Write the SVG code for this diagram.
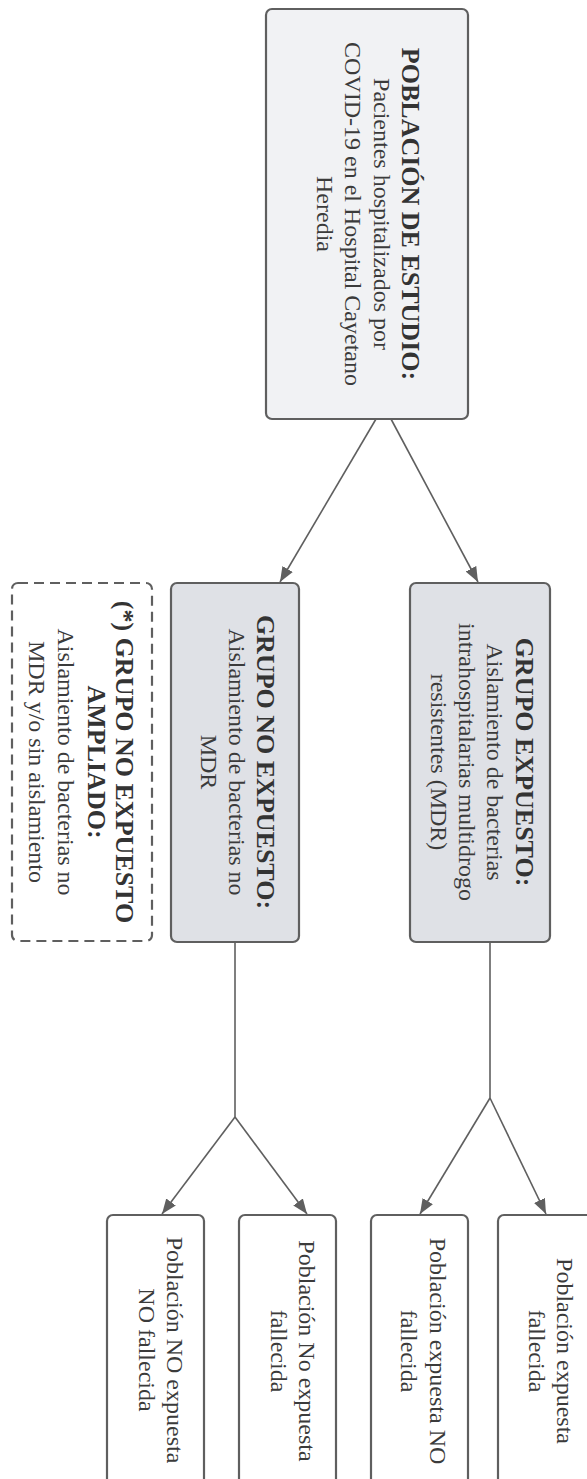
<svg xmlns="http://www.w3.org/2000/svg" width="587" height="1479" viewBox="0 0 587 1479">
<defs>
<style>
.box{stroke:#5f5f5f;stroke-width:2.2}
.top{fill:#f1f2f4}
.mid{fill:#dfe1e6}
.bot{fill:#ffffff}
.dash{fill:#ffffff;stroke-dasharray:10 6}
.t{font-family:"Liberation Serif","Times New Roman",serif;font-size:24px;fill:#3b3b3b;text-anchor:middle}
.b{font-weight:bold;font-size:26px;fill:#333333}
.c{fill:none;stroke:#5f5f5f;stroke-width:1.6}
</style>
<marker id="ah" markerUnits="userSpaceOnUse" markerWidth="16" markerHeight="14" refX="15" refY="7" orient="auto">
<path d="M0,1 L15,7 L0,13 Z" fill="#5f5f5f"/>
</marker>
</defs>
<rect width="587" height="1479" fill="#ffffff"/>
<g id="connectors">
<path class="c" d="M376,419 L280,582" marker-end="url(#ah)"/>
<path class="c" d="M391,419 L478,582" marker-end="url(#ah)"/>
<path class="c" d="M235,942 L235,1117"/>
<path class="c" d="M235,1117 L162,1214" marker-end="url(#ah)"/>
<path class="c" d="M235,1117 L307,1214" marker-end="url(#ah)"/>
<path class="c" d="M490,942 L490,1098"/>
<path class="c" d="M490,1098 L420,1214" marker-end="url(#ah)"/>
<path class="c" d="M490,1098 L546,1214" marker-end="url(#ah)"/>
</g>
<g id="poblacion">
<rect class="box top" x="266" y="9" width="202" height="410" rx="6"/>
<g transform="translate(367,214) rotate(90)">
<text class="t"><tspan class="b" x="0" y="-35">POBLACIÓN DE ESTUDIO:</tspan><tspan x="0" y="-7">Pacientes hospitalizados por</tspan><tspan x="0" y="22">COVID-19 en el Hospital Cayetano</tspan><tspan x="0" y="50">Heredia</tspan></text>
</g>
</g>
<g id="expuesto">
<rect class="box mid" x="410" y="583" width="140" height="359" rx="6"/>
<g transform="translate(480,762) rotate(90)">
<text class="t"><tspan class="b" x="0" y="-36">GRUPO EXPUESTO:</tspan><tspan x="0" y="-7">Aislamiento de bacterias</tspan><tspan x="0" y="21">intrahospitalarias multidrogo</tspan><tspan x="0" y="49">resistentes (MDR)</tspan></text>
</g>
</g>
<g id="no-expuesto">
<rect class="box mid" x="171" y="583" width="128" height="359" rx="6"/>
<g transform="translate(235,762) rotate(90)">
<text class="t"><tspan class="b" x="0" y="-22">GRUPO NO EXPUESTO:</tspan><tspan x="0" y="6">Aislamiento de bacterias no</tspan><tspan x="0" y="34">MDR</tspan></text>
</g>
</g>
<g id="no-expuesto-ampliado">
<rect class="box dash" x="12" y="583" width="140" height="358" rx="6"/>
<g transform="translate(82,762) rotate(90)">
<text class="t"><tspan class="b" x="0" y="-34">(*) GRUPO NO EXPUESTO</tspan><tspan class="b" x="0" y="-6">AMPLIADO:</tspan><tspan x="0" y="24">Aislamiento de bacterias no</tspan><tspan x="0" y="53">MDR y/o sin aislamiento</tspan></text>
</g>
</g>
<g id="no-expuesta-no-fallecida">
<rect class="box bot" x="107" y="1215" width="97" height="300" rx="6"/>
<g transform="translate(155.5,1350) rotate(90)">
<text class="t"><tspan x="0" y="-11">Población NO expuesta</tspan><tspan x="0" y="17">NO fallecida</tspan></text>
</g>
</g>
<g id="no-expuesta-fallecida">
<rect class="box bot" x="239" y="1215" width="97" height="300" rx="6"/>
<g transform="translate(287.5,1351) rotate(90)">
<text class="t"><tspan x="0" y="-11">Población No expuesta</tspan><tspan x="0" y="17">fallecida</tspan></text>
</g>
</g>
<g id="expuesta-no-fallecida">
<rect class="box bot" x="371" y="1215" width="97" height="300" rx="6"/>
<g transform="translate(419.5,1351) rotate(90)">
<text class="t"><tspan x="0" y="-10">Población expuesta NO</tspan><tspan x="0" y="19">fallecida</tspan></text>
</g>
</g>
<g id="expuesta-fallecida">
<rect class="box bot" x="498" y="1215" width="97" height="300" rx="6"/>
<g transform="translate(546.5,1351) rotate(90)">
<text class="t"><tspan x="0" y="-10">Población expuesta</tspan><tspan x="0" y="18">fallecida</tspan></text>
</g>
</g>
</svg>
